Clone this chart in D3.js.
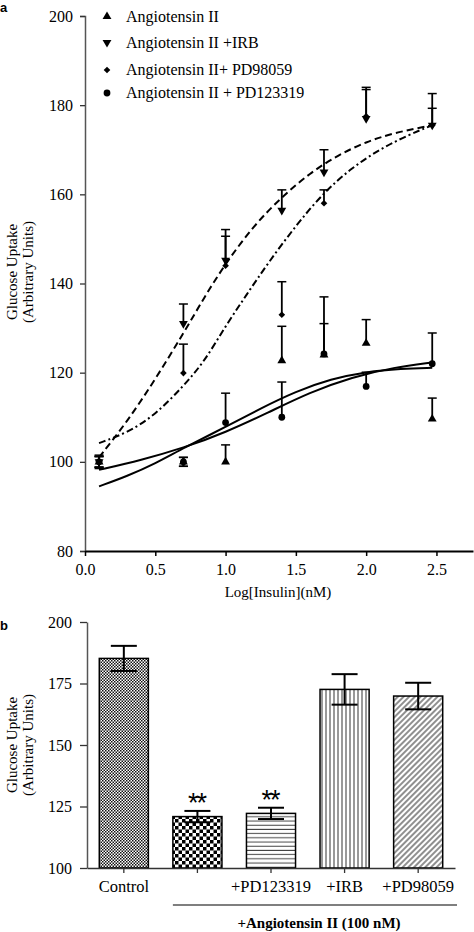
<!DOCTYPE html>
<html><head><meta charset="utf-8">
<script src="https://cdn.jsdelivr.net/npm/d3@7"></script>
<style>
body{margin:0;background:#fff}
svg{display:block}
text{font-family:"Liberation Serif","Times New Roman",serif;fill:#000}
</style>
</head><body>
<svg id="c" width="474" height="932"></svg>
<script>
// ---------- Panel a data ----------
const doseX = [0.1, 0.7, 1.0, 1.4, 1.7, 2.0, 2.47];
const angII      = [100, 100, 100, 122.7, 124, 126.6, 109.6];
const angIIUp    = [1.2, 1, 3.8, 7.7, 7, 5.3, 4.7];
const angIIDown  = [1.2, 1, 0, 0, 0, 0, 0];
const irb        = [100, 131, 145.2, 156.4, 165, 177, 175.5];
const irbUp      = [1.2, 4.4, 6.9, 4.6, 5, 7, 7.1];
const irbDown    = [1.2, 0, 0, 0, 0, 0, 0];
const pd98       = [100, 119.9, 144, 133, 158, 177.5, 175.5];
const pd98Up     = [1.2, 6.5, 6.6, 7.4, 3, 6, 3.8];
const pd98Down   = [1.2, 0, 0, 0, 0, 0, 0];
const pd12       = [100, 100, 108.8, 110, 124.2, 116.9, 122];
const pd12Up     = [1.5, 1, 6.6, 7.9, 12.8, 3.2, 6.9];
const pd12Down   = [1.5, 1, 0, 0, 0, 0, 0];

// fitted curves
const irbCurveX  = [0.1, 0.3, 0.5, 0.7, 0.85, 1.0, 1.2, 1.4, 1.6, 1.8, 2.0, 2.2, 2.47];
const irbCurveY  = [101, 109, 118.5, 128.8, 137, 144.5, 153, 159.4, 164.8, 168.8, 171.8, 173.8, 175.5];
const pd98CurveX = [0.1, 0.3, 0.5, 0.7, 0.85, 1.0, 1.15, 1.3, 1.5, 1.7, 1.9, 2.1, 2.3, 2.47];
const pd98CurveY = [104.2, 106.5, 110.5, 117, 122.5, 130.5, 137.5, 144.5, 153, 160.5, 166, 170.2, 173.3, 175.5];
const angCurveX  = [0.1, 0.4, 0.7, 1.0, 1.3, 1.6, 1.9, 2.2, 2.47];
const angCurveY  = [98.2, 100.4, 103.1, 106.6, 111, 115.6, 119, 121.2, 122.3];
const pd12CurveX = [0.1, 0.3, 0.5, 0.7, 1.0, 1.25, 1.5, 1.75, 2.0, 2.25, 2.47];
const pd12CurveY = [94.5, 96.8, 99.6, 103.1, 107.8, 112, 115.8, 118.6, 120.2, 120.9, 121.1];

const legendLabels = ["Angiotensin II", "Angiotensin II +IRB", "Angiotensin II+ PD98059", "Angiotensin II + PD123319"];
const xTicksA = [0, 0.5, 1.0, 1.5, 2.0, 2.5];
const yTicksA = [80, 100, 120, 140, 160, 180, 200];

// ---------- Panel b data ----------
const barCats   = ["Control", "AngII", "AngII+PD123319", "AngII+IRB", "AngII+PD98059"];
const barLabels = ["Control", "", "+PD123319", "+IRB", "+PD98059"];
const barValues = [185.2, 120.9, 122.2, 172.6, 169.9];
const barErrors = [5.1, 2.3, 2.3, 6.2, 5.4];
const barStars  = ["", "**", "**", "", ""];
const yTicksB   = [100, 125, 150, 175, 200];

const SERIF = "'Liberation Serif','Times New Roman',serif";
const SANS = "'Liberation Sans',Arial,sans-serif";

const svg = d3.select("#c");
const defs = svg.append("defs");

// ================= Panel a =================
const xA = d3.scaleLinear().domain([0, 2.76]).range([85, 473]);
const yA = d3.scaleLinear().domain([80, 200]).range([551, 16]);

svg.append("text").attr("x", 0).attr("y", 12)
  .style("font-family", SANS).style("font-weight", "bold").style("font-size", "13px").text("a");

const gyA = svg.append("g").attr("transform", "translate(85,0)")
  .call(d3.axisLeft(yA).tickValues(yTicksA).tickSize(5).tickPadding(7).tickFormat(d3.format("d")));
gyA.select(".domain").attr("stroke", "#555").attr("stroke-width", 1.5);
gyA.selectAll(".tick line").attr("stroke", "#333").attr("stroke-width", 1.3);
gyA.selectAll("text").style("font-size", "16px").style("font-family", SERIF);

const gxA = svg.append("g").attr("transform", "translate(0,551)")
  .call(d3.axisBottom(xA).tickValues(xTicksA).tickSize(5).tickPadding(8).tickFormat(d3.format(".1f")).tickSizeOuter(0));
gxA.select(".domain").attr("stroke", "#000").attr("stroke-width", 2);
gxA.selectAll(".tick line").attr("stroke", "#000").attr("stroke-width", 1.5);
gxA.selectAll("text").style("font-size", "16px").style("font-family", SERIF);

svg.append("text").attr("x", 278).attr("y", 597).attr("text-anchor", "middle")
  .style("font-size", "15px").style("font-family", SERIF).text("Log[Insulin](nM)");

function yLabel(cy) {
  const t = svg.append("text").attr("transform", `translate(17,${cy}) rotate(-90)`)
    .attr("text-anchor", "middle").style("font-size", "15px").style("font-family", SERIF);
  t.append("tspan").attr("x", 0).attr("y", 0).text("Glucose Uptake");
  t.append("tspan").attr("x", 0).attr("y", 16).text("(Arbitrary Units)");
}
yLabel(272);

// curves
const lineGen = d3.line().x(d => xA(d[0])).y(d => yA(d[1])).curve(d3.curveBasis);
function drawCurve(xs, ys, dash) {
  svg.append("path").datum(xs.map((x, i) => [x, ys[i]]))
    .attr("d", lineGen).attr("fill", "none").attr("stroke", "#000")
    .attr("stroke-width", 2).attr("stroke-dasharray", dash);
}
drawCurve(irbCurveX, irbCurveY, "7,4");
drawCurve(pd98CurveX, pd98CurveY, "7,3,2,3");
drawCurve(angCurveX, angCurveY, null);
drawCurve(pd12CurveX, pd12CurveY, null);

// series
const series = [
  {vals: angII, up: angIIUp, down: angIIDown, sym: d3.symbolTriangle, size: 34, rot: 0},
  {vals: irb, up: irbUp, down: irbDown, sym: d3.symbolTriangle, size: 34, rot: 180},
  {vals: pd98, up: pd98Up, down: pd98Down, sym: d3.symbolSquare, size: 22, rot: 45},
  {vals: pd12, up: pd12Up, down: pd12Down, sym: d3.symbolCircle, size: 36, rot: 0}
];
series.forEach(s => {
  const g = svg.append("g");
  doseX.forEach((x, i) => {
    const cx = xA(x), v = s.vals[i];
    const top = yA(v + s.up[i]), bot = yA(v - s.down[i]);
    g.append("line").attr("x1", cx).attr("x2", cx).attr("y1", top).attr("y2", bot)
      .attr("stroke", "#000").attr("stroke-width", 1.8);
    if (s.up[i] > 0) g.append("line").attr("x1", cx - 4.5).attr("x2", cx + 4.5).attr("y1", top).attr("y2", top)
      .attr("stroke", "#000").attr("stroke-width", 1.5);
    if (s.down[i] > 0) g.append("line").attr("x1", cx - 4.5).attr("x2", cx + 4.5).attr("y1", bot).attr("y2", bot)
      .attr("stroke", "#000").attr("stroke-width", 1.5);
    g.append("path").attr("d", d3.symbol().type(s.sym).size(s.size)())
      .attr("transform", `translate(${cx},${yA(v)}) rotate(${s.rot})`).attr("fill", "#000");
  });
});

// legend
const legY = [16.5, 42.5, 70, 93];
series.forEach((s, i) => {
  svg.append("path").attr("d", d3.symbol().type(s.sym).size(s.size)())
    .attr("transform", `translate(107,${legY[i]}) rotate(${s.rot})`).attr("fill", "#000");
  svg.append("text").attr("x", 126).attr("y", legY[i] + 5).style("font-size", "16px")
    .style("font-family", SERIF).text(legendLabels[i]);
});

// ================= Panel b =================
const xB = d3.scaleBand().domain(barCats).range([87, 455]).paddingInner(0.333).paddingOuter(0.167);
const yB = d3.scaleLinear().domain([100, 200]).range([868, 622]);

svg.append("text").attr("x", 0).attr("y", 630)
  .style("font-family", SANS).style("font-weight", "bold").style("font-size", "13px").text("b");

// patterns
const p1 = defs.append("pattern").attr("id", "pCtrl").attr("patternUnits", "userSpaceOnUse").attr("width", 3).attr("height", 3);
p1.append("rect").attr("width", 3).attr("height", 3).attr("fill", "#fff");
p1.append("rect").attr("width", 1.5).attr("height", 1.5).attr("fill", "#111");
p1.append("rect").attr("x", 1.5).attr("y", 1.5).attr("width", 1.5).attr("height", 1.5).attr("fill", "#111");

const p2 = defs.append("pattern").attr("id", "pAng").attr("patternUnits", "userSpaceOnUse").attr("width", 7).attr("height", 7);
p2.append("rect").attr("width", 7).attr("height", 7).attr("fill", "#fff");
p2.append("rect").attr("width", 3.5).attr("height", 3.5).attr("fill", "#000");
p2.append("rect").attr("x", 3.5).attr("y", 3.5).attr("width", 3.5).attr("height", 3.5).attr("fill", "#000");

const p3 = defs.append("pattern").attr("id", "pH").attr("patternUnits", "userSpaceOnUse").attr("width", 8).attr("height", 4.2);
p3.append("rect").attr("width", 8).attr("height", 4.2).attr("fill", "#fff");
p3.append("line").attr("x1", 0).attr("x2", 8).attr("y1", 2).attr("y2", 2).attr("stroke", "#444").attr("stroke-width", 1);

const p4 = defs.append("pattern").attr("id", "pV").attr("patternUnits", "userSpaceOnUse").attr("width", 4).attr("height", 8);
p4.append("rect").attr("width", 4).attr("height", 8).attr("fill", "#fff");
p4.append("line").attr("x1", 2).attr("x2", 2).attr("y1", 0).attr("y2", 8).attr("stroke", "#333").attr("stroke-width", 1);

const p5 = defs.append("pattern").attr("id", "pD").attr("patternUnits", "userSpaceOnUse").attr("width", 4).attr("height", 4)
  .attr("patternTransform", "rotate(45)");
p5.append("rect").attr("width", 4).attr("height", 4).attr("fill", "#fff");
p5.append("line").attr("x1", 2).attr("x2", 2).attr("y1", 0).attr("y2", 4).attr("stroke", "#333").attr("stroke-width", 1.1);

const fills = ["url(#pCtrl)", "url(#pAng)", "url(#pH)", "url(#pV)", "url(#pD)"];

svg.append("g").selectAll("rect").data(barCats).join("rect")
  .attr("x", d => xB(d)).attr("width", xB.bandwidth())
  .attr("y", (d, i) => yB(barValues[i])).attr("height", (d, i) => yB(100) - yB(barValues[i]))
  .attr("fill", (d, i) => fills[i]).attr("stroke", "#000").attr("stroke-width", 1.5);

// error bars
const eb = svg.append("g");
barCats.forEach((c, i) => {
  const cx = xB(c) + xB.bandwidth() / 2;
  const t = yB(barValues[i] + barErrors[i]), b = yB(barValues[i] - barErrors[i]);
  eb.append("line").attr("x1", cx).attr("x2", cx).attr("y1", t).attr("y2", b).attr("stroke", "#000").attr("stroke-width", 2);
  [t, b].forEach(yy => eb.append("line").attr("x1", cx - 13).attr("x2", cx + 13).attr("y1", yy).attr("y2", yy)
    .attr("stroke", "#000").attr("stroke-width", 2));
  if (barStars[i]) svg.append("text").attr("x", cx - 1).attr("y", yB(barValues[i] + barErrors[i]) + 1)
    .attr("text-anchor", "middle").style("font-family", SANS)
    .style("font-size", "27px").style("letter-spacing", "-2px").text(barStars[i]);
});

const gyB = svg.append("g").attr("transform", "translate(87,0)")
  .call(d3.axisLeft(yB).tickValues(yTicksB).tickSize(7).tickPadding(8).tickSizeOuter(0));
gyB.select(".domain").attr("stroke", "#555").attr("stroke-width", 1.5);
gyB.selectAll(".tick line").attr("stroke", "#333").attr("stroke-width", 1.3);
gyB.selectAll("text").style("font-size", "16px").style("font-family", SERIF);

const gxB = svg.append("g").attr("transform", "translate(0,868)")
  .call(d3.axisBottom(xB).tickSize(5).tickPadding(7).tickSizeOuter(0).tickFormat((d, i) => barLabels[i]));
gxB.select(".domain").attr("stroke", "#333").attr("stroke-width", 1.5);
gxB.selectAll(".tick line").attr("stroke", "#333").attr("stroke-width", 1.3);
gxB.selectAll("text").style("font-size", "16.5px").style("font-family", SERIF);

yLabel(745);

// group bracket
svg.append("line").attr("x1", xB(barCats[1])).attr("x2", 457).attr("y1", 905).attr("y2", 905)
  .attr("stroke", "#000").attr("stroke-width", 1.2);
svg.append("text").attr("x", 319).attr("y", 928).attr("text-anchor", "middle")
  .style("font-size", "15px").style("font-weight", "bold").style("font-family", SERIF).text("+Angiotensin II (100 nM)");
</script>
</body></html>
